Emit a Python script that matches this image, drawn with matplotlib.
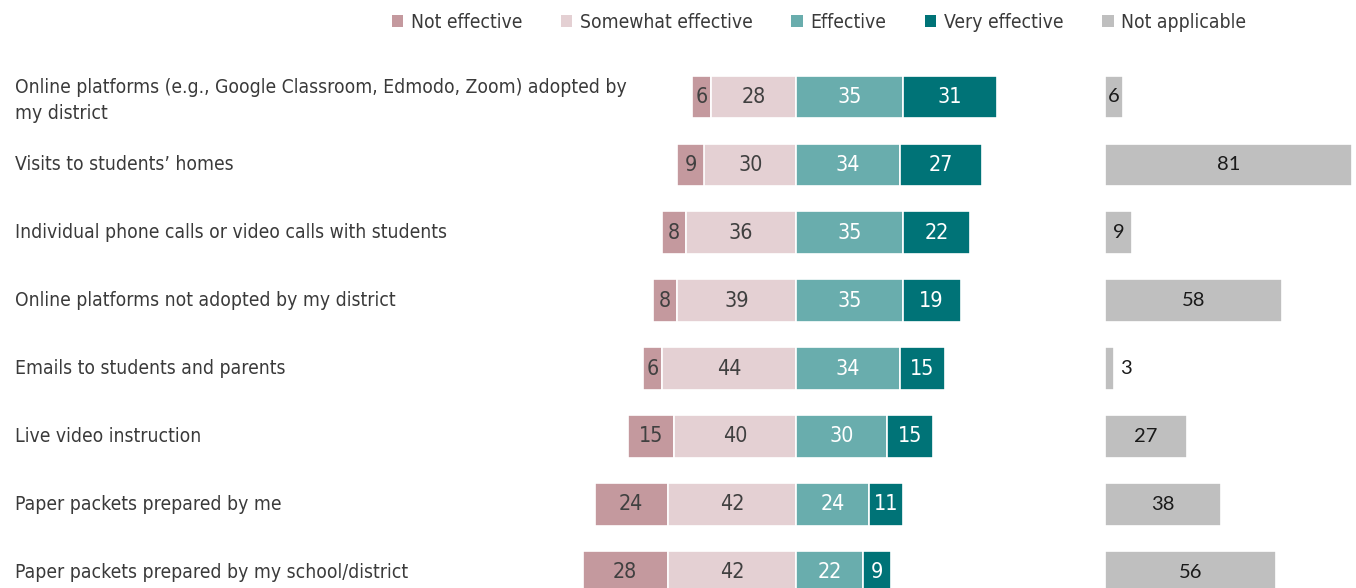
import numpy as np
import matplotlib.pyplot as plt
from matplotlib.patches import Patch
from matplotlib import font_manager
from matplotlib.font_manager import FontProperties

categories = [
    "Online platforms (e.g., Google Classroom, Edmodo, Zoom) adopted by\nmy district",
    "Visits to students\u2019 homes",
    "Individual phone calls or video calls with students",
    "Online platforms not adopted by my district",
    "Emails to students and parents",
    "Live video instruction",
    "Paper packets prepared by me",
    "Paper packets prepared by my school/district",
]
not_effective = [6, 9, 8, 8, 6, 15, 24, 28]
somewhat_effective = [28, 30, 36, 39, 44, 40, 42, 42]
effective = [35, 34, 35, 35, 34, 30, 24, 22]
very_effective = [31, 27, 22, 19, 15, 15, 11, 9]
not_applicable = [6, 81, 9, 58, 3, 27, 38, 56]

series_names = ["Not effective", "Somewhat effective", "Effective",
                "Very effective", "Not applicable"]
colors = ["#C4999E", "#E4D0D3", "#69ADAD", "#007377", "#BFBFBF"]
text_colors = ["#404040", "#404040", "white", "white", "#1a1a1a"]

# look for a condensed sans face, otherwise the narrowest common one
cond = None
for f in font_manager.fontManager.ttflist:
    st = str(f.stretch).lower()
    nm = f.name.lower()
    if f.style == 'normal' and f.weight in (400, 'normal', 'regular') and \
            ('condensed' in st or 'narrow' in nm or 'condensed' in nm) and 'mono' not in nm \
            and 'serif' not in nm:
        cond = f.fname
        break
if cond:
    base_fp = FontProperties(fname=cond)
else:
    base_fp = FontProperties(family=['Liberation Sans', 'DejaVu Sans'])

W, H = 1356, 588
px_per_unit = 3.05
x0 = 796      # zero line in pixels
na_start = (1105 - x0) / px_per_unit
row0, row_step = 97, 67.9

fig = plt.figure(figsize=(W / 100, H / 100), dpi=100)
ax = fig.add_axes([0, 0, 1, 1])
ax.set_xlim(-x0 / px_per_unit, (W - x0) / px_per_unit)
ax.set_ylim((H - row0) / row_step, -row0 / row_step)
ax.axis('off')

# fit label size so the first line is as wide as in the reference
renderer = fig.canvas.get_renderer()
probe = fig.text(0, 0, categories[0].split('\n')[0], fontproperties=base_fp, fontsize=14.5)
wpx = probe.get_window_extent(renderer).width
probe.remove()
fs = min(14.5, 14.5 * 610 / wpx)


def fp(size):
    p = base_fp.copy()
    p.set_size(size)
    return p


y = np.arange(len(categories))
h = 0.63
ne = np.array(not_effective)
se = np.array(somewhat_effective)
ef = np.array(effective)
ve = np.array(very_effective)
na = np.array(not_applicable)

segments = [
    (-(ne + se), ne),
    (-se, se),
    (np.zeros(len(y)), ef),
    (ef, ve),
    (np.full(len(y), na_start), na),
]
na_fp = FontProperties(family=['Lato', 'DejaVu Sans'], stretch='normal', size=14.5)
for i, (left, width) in enumerate(segments):
    ax.barh(y, width, left=left, height=h, color=colors[i],
            edgecolor='white', linewidth=1.2)
    for yy, l, w in zip(y, left, width):
        if i == 4:
            if w < 5:
                ax.text(l + w + 2, yy, str(w), ha='left', va='center',
                        fontproperties=na_fp, color=text_colors[i])
            else:
                ax.text(l + w / 2, yy, str(w), ha='center', va='center',
                        fontproperties=na_fp, color=text_colors[i])
        else:
            ax.text(l + w / 2, yy, str(w), ha='center', va='center',
                    fontproperties=fp(fs + 1.5), color=text_colors[i])

# category labels
trans = ax.get_yaxis_transform()
for yy, cat in zip(y, categories):
    off = 0.05 if '\n' in cat else 0.0
    ax.text(15 / W, yy + off, cat, transform=trans, ha='left', va='center',
            fontproperties=fp(fs), color='#3a3a3a', linespacing=1.45)

handles = [Patch(facecolor=c, edgecolor='none') for c in colors]
leg = fig.legend(handles, series_names, loc='center', bbox_to_anchor=(819 / W, 1 - 22 / H),
                 ncol=5, frameon=False, prop=fp(fs), handlelength=0.6, handleheight=0.6,
                 handletextpad=0.4, columnspacing=2.0)
for t in leg.get_texts():
    t.set_color('#3a3a3a')

fig.savefig('out.png', dpi=100)
